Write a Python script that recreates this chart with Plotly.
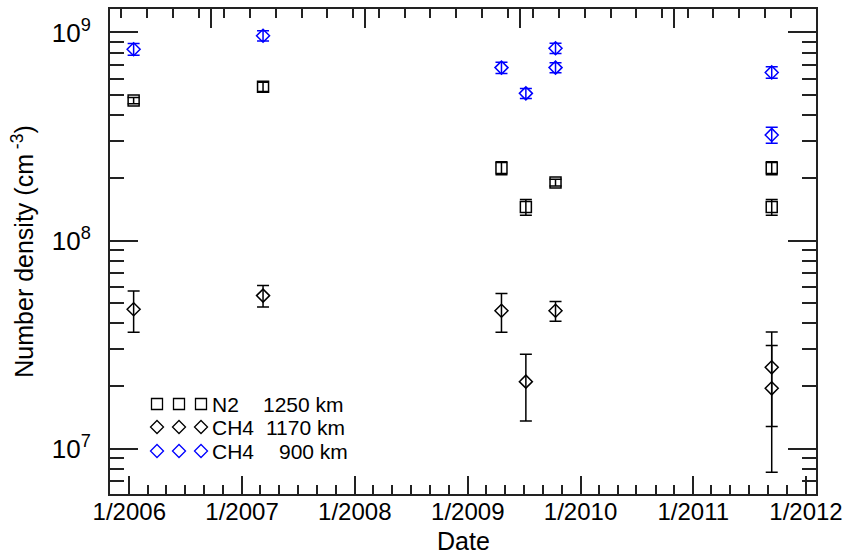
import plotly.graph_objects as go

# Flyby dates
n2_dates = ["2006-01-15", "2007-03-10", "2009-04-20", "2009-07-08",
            "2009-10-12", "2011-09-12", "2011-09-12"]
ch4_1170_dates = ["2006-01-15", "2007-03-10", "2009-04-20", "2009-07-08",
                  "2009-10-12", "2011-09-12", "2011-09-12"]
ch4_900_dates = ["2006-01-15", "2007-03-10", "2009-04-20", "2009-07-08",
                 "2009-10-12", "2009-10-12", "2011-09-12", "2011-09-12"]

# Number densities (cm^-3) and 1-sigma errors
n2_1250 = [4.71e8, 5.49e8, 2.23e8, 1.45e8, 1.90e8, 2.23e8, 1.45e8]
n2_1250_err = [0.16e8, 0.28e8, 0.16e8, 0.125e8, 0.07e8, 0.16e8, 0.125e8]

ch4_1170 = [4.68e7, 5.44e7, 4.60e7, 2.10e7, 4.60e7, 2.46e7, 1.95e7]
ch4_1170_err = [1.05e7, 0.65e7, 0.97e7, 0.74e7, 0.50e7, 1.18e7, 1.18e7]

ch4_900 = [8.31e8, 9.65e8, 6.78e8, 5.10e8, 8.40e8, 6.78e8, 6.43e8, 3.22e8]
ch4_900_err = [0.54e8, 0.54e8, 0.42e8, 0.28e8, 0.47e8, 0.37e8, 0.41e8, 0.28e8]

# Axis labels
year_ticks = ["2006-01-01", "2007-01-01", "2008-01-01", "2009-01-01",
              "2010-01-01", "2011-01-01", "2012-01-01"]
year_labels = ["1/2006", "1/2007", "1/2008", "1/2009", "1/2010", "1/2011", "1/2012"]
decade_ticks = [1e7, 1e8, 1e9]
decade_labels = ["10<sup>7</sup>", "10<sup>8</sup>", "10<sup>9</sup>"]
minor_ticks = [m * 10 ** e for e in (6, 7, 8) for m in range(2, 10)]

legend_rows = [("N2", "1250 km", "black", "square-open"),
               ("CH4", "1170 km", "black", "diamond-open"),
               ("CH4", "900 km", "rgb(0,0,255)", "diamond-open")]

X_RANGE = ["2005-10-30 12:00", "2012-02-02 09:00"]
Y_RANGE = [6.7823, 9.1129]
FONT = "Liberation Sans, Arial, sans-serif"
BLUE = "rgb(0,0,255)"
DAY_MS = 86400000

fig = go.Figure()


def add_series(dates, vals, errs, color, symbol, size):
    fig.add_trace(go.Scatter(
        x=dates, y=vals, mode="markers",
        marker=dict(symbol=symbol, size=size, color=color,
                    line=dict(color=color, width=1.5)),
        error_y=dict(type="data", array=errs, visible=True,
                     color=color, thickness=1.5, width=6),
        showlegend=False, hoverinfo="x+y",
    ))


add_series(n2_dates, n2_1250, n2_1250_err, "black", "square-open", 11)
add_series(ch4_1170_dates, ch4_1170, ch4_1170_err, "black", "diamond-open", 10)
add_series(ch4_900_dates, ch4_900, ch4_900_err, BLUE, "diamond-open", 10)

# Invisible trace so the top (Julian-day) axis is rendered
fig.add_trace(go.Scatter(x=[X_RANGE[0]], y=[1e8], xaxis="x2", mode="markers",
                         marker=dict(opacity=0), showlegend=False,
                         hoverinfo="skip"))

# Legend keys drawn on a pixel-like overlay axis
KEY_X = [157, 179, 201]
KEY_Y = [404, 427, 451]
VAL_X = [262, 265, 278]
for (name, alt, color, symbol), ky, vx in zip(legend_rows, KEY_Y, VAL_X):
    fig.add_trace(go.Scatter(
        x=KEY_X, y=[ky] * 3, xaxis="x3", yaxis="y3", mode="markers",
        marker=dict(symbol=symbol, size=10 if "diamond" in symbol else 11,
                    color=color, line=dict(color=color, width=1.3)),
        showlegend=False, hoverinfo="skip",
    ))
    fig.add_annotation(x=211, y=ky, xref="x3", yref="y3", text=name,
                       showarrow=False, xanchor="left", yanchor="middle",
                       borderpad=0,
                       font=dict(size=21, color="black", family=FONT))
    fig.add_annotation(x=vx, y=ky, xref="x3", yref="y3", text=alt,
                       showarrow=False, xanchor="left", yanchor="middle",
                       borderpad=0,
                       font=dict(size=21, color="black", family=FONT))

# x-axis title placed just below the tick labels
fig.add_annotation(x=0.5, y=-0.096, xref="paper", yref="paper", text="Date",
                   showarrow=False, xanchor="center", yanchor="middle",
                   borderpad=0, font=dict(size=25, color="black", family=FONT))

axis_line = dict(showline=True, linecolor="#222", linewidth=2,
                 showgrid=False, zeroline=False, automargin=False)

fig.update_layout(
    width=852, height=556,
    margin=dict(l=110, r=36, t=9, b=62),
    paper_bgcolor="white", plot_bgcolor="white",
    font=dict(family=FONT, color="black"),
    xaxis=dict(
        type="date", range=X_RANGE, **axis_line,
        tickmode="array", tickvals=year_ticks, ticktext=year_labels,
        ticks="inside", ticklen=18, tickwidth=1.5, tickcolor="#222",
        tickfont=dict(size=24, family=FONT, color="black"),
        ticklabelstandoff=-5,
        minor=dict(ticks="inside", ticklen=9, tickwidth=1.5, tickcolor="#222",
                   dtick="M2", tick0="2006-01-01", showgrid=False),
        mirror=False,
    ),
    xaxis2=dict(
        type="date", range=X_RANGE, overlaying="x", side="top", anchor="y",
        **axis_line, showticklabels=False,
        tick0="2006-09-21 12:00", dtick=500 * DAY_MS,
        ticks="inside", ticklen=19, tickwidth=1.5, tickcolor="#222",
        minor=dict(ticks="inside", ticklen=9, tickwidth=1.5, tickcolor="#222",
                   dtick=500 * DAY_MS / 6, showgrid=False),
    ),
    yaxis=dict(
        type="log", range=Y_RANGE, **axis_line, mirror="ticks",
        tickmode="array", tickvals=decade_ticks, ticktext=decade_labels,
        ticks="inside", ticklen=28, tickwidth=1.5, tickcolor="#222",
        tickfont=dict(size=26, family=FONT, color="black"),
        ticklabelstandoff=12,
        minor=dict(ticks="inside", ticklen=14, tickwidth=1.5, tickcolor="#222",
                   tickmode="array", tickvals=minor_ticks, showgrid=False),
        title=dict(text="Number density (cm<sup> -3</sup>)",
                   font=dict(size=25, family=FONT, color="black"), standoff=11),
    ),
    xaxis3=dict(range=[110, 816], domain=[0, 1], overlaying="x", anchor="y3",
                visible=False, fixedrange=True),
    yaxis3=dict(range=[494, 9], domain=[0, 1], overlaying="y", anchor="x3",
                visible=False, fixedrange=True),
)

fig.write_html("out.html")
